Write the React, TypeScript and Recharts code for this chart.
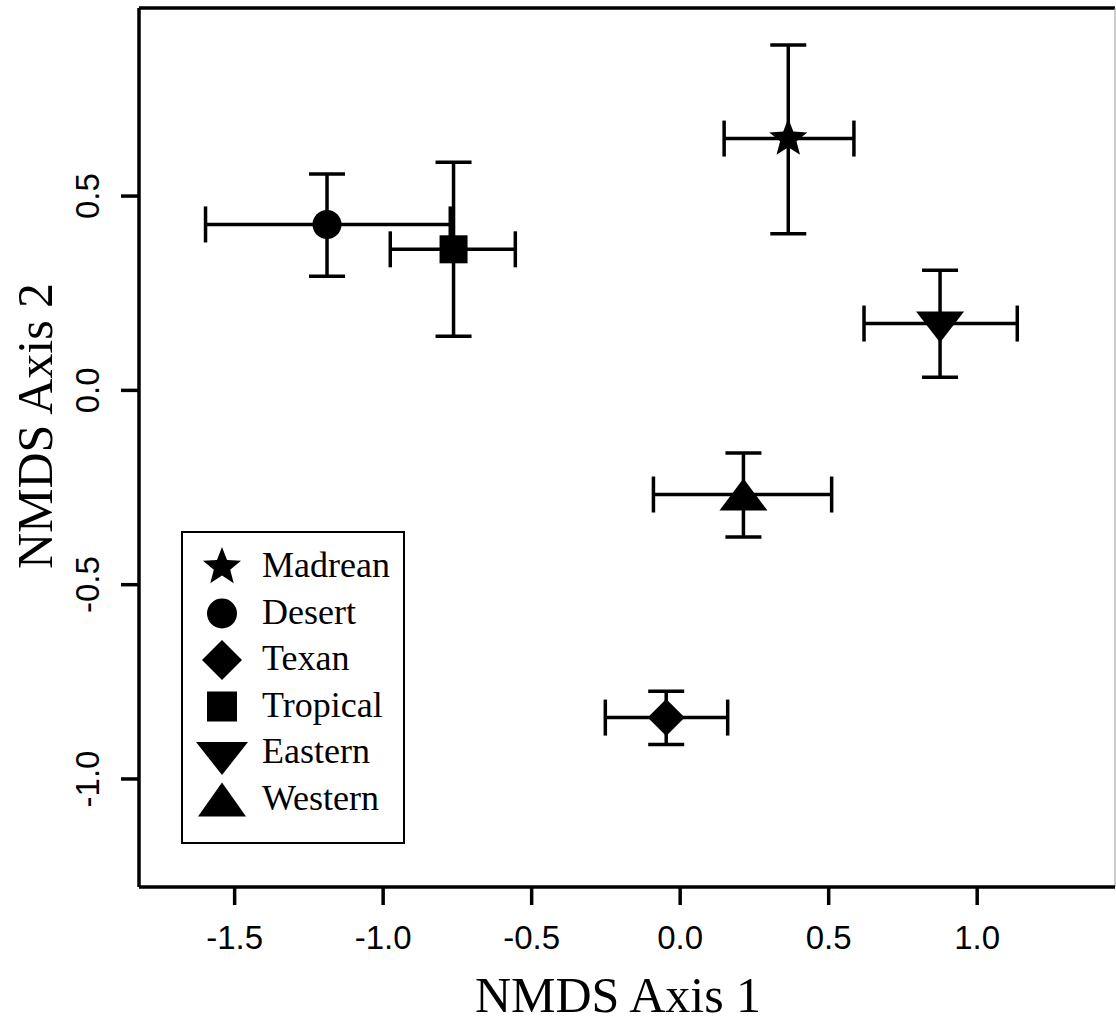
import React from 'react';
import { ScatterChart, Scatter, XAxis, YAxis, ErrorBar, ReferenceLine, Legend, Label } from 'recharts';

// ---- data ----
const groups = ['Madrean', 'Desert', 'Texan', 'Tropical', 'Eastern', 'Western'];
const xMean = [0.364, -1.189, -0.047, -0.763, 0.875, 0.213];
const yMean = [0.648, 0.427, -0.842, 0.363, 0.172, -0.268];
const xLower = [0.148, -1.598, -0.252, -0.976, 0.619, -0.09];
const xUpper = [0.585, -0.774, 0.16, -0.555, 1.135, 0.51];
const yLower = [0.403, 0.294, -0.911, 0.139, 0.034, -0.377];
const yUpper = [0.889, 0.557, -0.774, 0.587, 0.309, -0.161];
const symbols = ['star', 'circle', 'diamond', 'square', 'down', 'up'];

const xTicks = [-1.5, -1.0, -0.5, 0.0, 0.5, 1.0];
const yTicks = [-1.0, -0.5, 0.0, 0.5];
const xDomain = [-1.822, 1.464];
const yDomain = [-1.278, 0.984];

// ---- layout ----
const W = 1116;
const H = 1023;
const PLOT_LEFT = 139;
const PLOT_TOP = 8;
const PLOT_RIGHT = 1115;
const PLOT_BOTTOM = 887;
const SERIF = "'Liberation Serif', 'Times New Roman', Times, serif";
const SANS = "'Liberation Sans', Arial, Helvetica, sans-serif";
const LW = 3.5;

const rows = groups.map((g, i) => ({
  name: g,
  x: xMean[i],
  y: yMean[i],
  xErr: [xMean[i] - xLower[i], xUpper[i] - xMean[i]],
  yErr: [yMean[i] - yLower[i], yUpper[i] - yMean[i]],
}));

function starPoints(cx: number, cy: number, R: number, r: number) {
  const pts: string[] = [];
  for (let k = 0; k < 10; k++) {
    const ang = -Math.PI / 2 + (k * Math.PI) / 5;
    const rad = k % 2 === 0 ? R : r;
    pts.push(`${cx + rad * Math.cos(ang)},${cy + rad * Math.sin(ang)}`);
  }
  return pts.join(' ');
}

function drawSymbol(kind: string, cx: number, cy: number, legend: boolean) {
  const f = '#000';
  switch (kind) {
    case 'star':
      return <polygon points={starPoints(cx, cy, 20, 8.6)} fill={f} />;
    case 'circle':
      return <circle cx={cx} cy={cy} r={legend ? 15 : 14.5} fill={f} />;
    case 'diamond': {
      const d = legend ? 20 : 18.5;
      return <polygon points={`${cx},${cy - d} ${cx + d},${cy} ${cx},${cy + d} ${cx - d},${cy}`} fill={f} />;
    }
    case 'square': {
      const s = legend ? 15 : 14;
      return <rect x={cx - s} y={cy - s} width={2 * s} height={2 * s} fill={f} />;
    }
    case 'down': {
      const hw = legend ? 26 : 24;
      const t = legend ? 11 : 12;
      const b = legend ? 22 : 19;
      return <polygon points={`${cx - hw},${cy - t} ${cx + hw},${cy - t} ${cx},${cy + b}`} fill={f} />;
    }
    case 'up':
    default: {
      const hw = 24;
      const t = legend ? 17 : 16;
      return <polygon points={`${cx},${cy - t} ${cx + hw},${cy + t} ${cx - hw},${cy + t}`} fill={f} />;
    }
  }
}

const makeShape = (kind: string) => (props: any) => {
  const { cx, cy } = props;
  if (cx == null || cy == null) return <g />;
  return <g>{drawSymbol(kind, cx, cy, false)}</g>;
};

const XTick = (props: any) => {
  const { x, y, payload } = props;
  return (
    <text x={x} y={y + 23} textAnchor="middle" fontFamily={SANS} fontSize={33} fill="#000">
      {Number(payload.value).toFixed(1)}
    </text>
  );
};

const YTick = (props: any) => {
  const { x, y, payload } = props;
  return (
    <text
      x={x}
      y={y}
      transform={`rotate(-90, ${x}, ${y})`}
      textAnchor="middle"
      fontFamily={SANS}
      fontSize={33}
      fill="#000"
    >
      {Number(payload.value).toFixed(1)}
    </text>
  );
};

const XTitle = () => (
  <text x={618} y={1012} textAnchor="middle" fontFamily={SERIF} fontSize={50} fill="#000">
    NMDS Axis 1
  </text>
);

const YTitle = () => (
  <text
    x={52}
    y={426}
    transform={`rotate(-90, 52, 426)`}
    textAnchor="middle"
    fontFamily={SERIF}
    fontSize={50}
    fill="#000"
  >
    NMDS Axis 2
  </text>
);

const LEG_LEFT = 180;
const LEG_TOP = 530;
const LEG_W = 226;
const LEG_H = 315;

const LegendBox = () => (
  <svg width={LEG_W} height={LEG_H} style={{ display: 'block' }}>
    <rect x={2} y={2} width={222} height={311} fill="#fff" stroke="#000" strokeWidth={2} />
    {groups.map((g, i) => {
      const cy = 37 + i * 46.5;
      return (
        <g key={g}>
          {drawSymbol(symbols[i], 42, cy, true)}
          <text x={82} y={cy + 10} fontFamily={SERIF} fontSize={36} fill="#000">
            {g}
          </text>
        </g>
      );
    })}
  </svg>
);

export default function App() {
  return (
    <div style={{ position: 'absolute', left: 0, top: 0, width: W, height: H, background: '#fff' }}>
      <ScatterChart
        width={W}
        height={H}
        margin={{ top: PLOT_TOP, right: W - PLOT_RIGHT, bottom: 0, left: 0 }}
      >
        <XAxis
          type="number"
          dataKey="x"
          domain={xDomain}
          allowDataOverflow
          ticks={xTicks}
          interval={0}
          height={H - PLOT_BOTTOM}
          tickSize={18}
          tickMargin={21}
          axisLine={{ stroke: '#000', strokeWidth: LW }}
          tickLine={{ stroke: '#000', strokeWidth: LW }}
          tick={<XTick />}
          label={<Label content={<XTitle />} />}
        />
        <YAxis
          type="number"
          dataKey="y"
          domain={yDomain}
          allowDataOverflow
          ticks={yTicks}
          interval={0}
          width={PLOT_LEFT}
          tickSize={18}
          tickMargin={22}
          axisLine={{ stroke: '#000', strokeWidth: LW }}
          tickLine={{ stroke: '#000', strokeWidth: LW }}
          tick={<YTick />}
          label={<Label content={<YTitle />} />}
        />
        <ReferenceLine y={yDomain[1]} stroke="#000" strokeWidth={LW} />
        <ReferenceLine x={xDomain[1]} stroke="#9a9a9a" strokeWidth={1} />
        {rows.map((r, i) => (
          <Scatter
            key={r.name}
            name={r.name}
            data={[r]}
            fill="#000"
            isAnimationActive={false}
            shape={makeShape(symbols[i])}
          >
            <ErrorBar dataKey="xErr" direction="x" width={18} strokeWidth={LW} stroke="#000" />
            <ErrorBar dataKey="yErr" direction="y" width={18} strokeWidth={LW} stroke="#000" />
          </Scatter>
        ))}
        <Legend
          layout="horizontal"
          verticalAlign="middle"
          align="center"
          wrapperStyle={{ position: 'absolute', left: LEG_LEFT, top: LEG_TOP, width: LEG_W, height: LEG_H }}
          content={() => <LegendBox />}
        />
      </ScatterChart>
    </div>
  );
}
